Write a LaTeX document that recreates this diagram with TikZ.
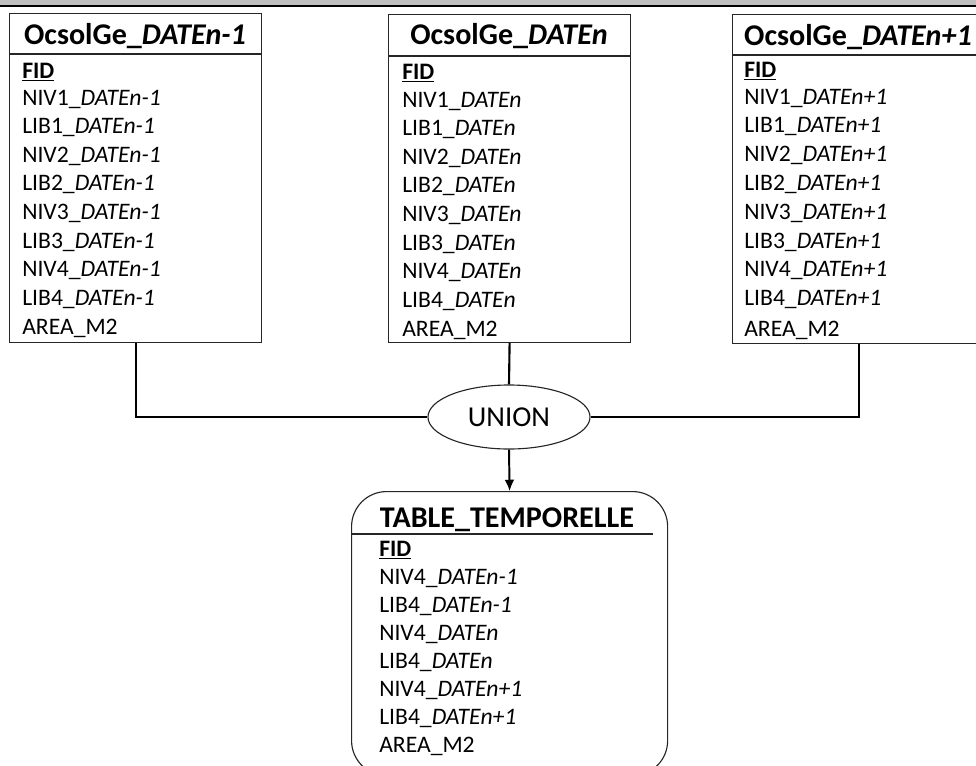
\documentclass[tikz,border=0pt]{standalone}
\usepackage{fontspec}
\setmainfont{Carlito}
\usetikzlibrary{shapes.geometric,arrows.meta}

\tikzset{
  tblbox/.style={draw=black!85, line width=0.8pt, fill=white, anchor=north west, inner sep=0pt},
  tblline/.style={draw=black!85, line width=0.8pt},
  ttl/.style={anchor=base, inner sep=0pt, font=\fontsize{21.4}{25}\selectfont\bfseries},
  fld/.style={anchor=base west, inner sep=0pt, font=\fontsize{16.8}{20}\selectfont},
  conn/.style={line width=1.5pt},
}

\begin{document}
\begin{tikzpicture}[x=0.025cm, y=-0.025cm]
\useasboundingbox (0,0) rectangle (976,765);
\clip (0,0) rectangle (976,765);

% Top strip
\fill[black!25] (0,0) rectangle (976,5);
\draw[line width=1.4pt] (0,6) -- (976,6);

% Table DATEn-1
\node[tblbox, minimum width=6.3cm, minimum height=8.225cm] (t1) at (9,13) {};
\draw[tblline] (t1.west |- 0,54) -- (t1.east |- 0,54);
\node[ttl] (t1h) at (135,44) {OcsolGe\_\textit{DATEn-1}};
\node[fld] (t1f) at (22,78) {\underline{\textbf{FID}}};
\foreach \n in {1,...,4} {
  \node[fld] (t1niv\n) at (22,{105+(2*\n-2)*28.6}) {NIV\n\_\textit{DATEn-1}};
  \node[fld] (t1lib\n) at (22,{105+(2*\n-1)*28.6}) {LIB\n\_\textit{DATEn-1}};
}
\node[fld] (t1a) at (22,334) {AREA\_M2};

% Table DATEn
\node[tblbox, minimum width=6.05cm, minimum height=8.2cm] (t2) at (388,14) {};
\draw[tblline] (t2.west |- 0,56) -- (t2.east |- 0,56);
\node[ttl] (t2h) at (509,44) {OcsolGe\_\textit{DATEn}};
\node[fld] (t2f) at (402,79) {\underline{\textbf{FID}}};
\foreach \n in {1,...,4} {
  \node[fld] (t2niv\n) at (402,{107+(2*\n-2)*28.6}) {NIV\n\_\textit{DATEn}};
  \node[fld] (t2lib\n) at (402,{107+(2*\n-1)*28.6}) {LIB\n\_\textit{DATEn}};
}
\node[fld] (t2a) at (402,336) {AREA\_M2};

% Table DATEn+1
\node[tblbox, minimum width=6.3cm, minimum height=8.225cm] (t3) at (732,14) {};
\draw[tblline] (t3.west |- 0,55) -- (t3.east |- 0,55);
\node[ttl] (t3h) at (858,45) {OcsolGe\_\textit{DATEn+1}};
\node[fld] (t3f) at (744,77) {\underline{\textbf{FID}}};
\foreach \n in {1,...,4} {
  \node[fld] (t3niv\n) at (744,{104+(2*\n-2)*28.8}) {NIV\n\_\textit{DATEn+1}};
  \node[fld] (t3lib\n) at (744,{104+(2*\n-1)*28.8}) {LIB\n\_\textit{DATEn+1}};
}
\node[fld] (t3a) at (744,336) {AREA\_M2};

% Union
\node[draw=black!85, line width=0.8pt, ellipse, minimum width=4.05cm, minimum height=1.6cm,
      inner sep=0pt, font=\fontsize{20.5}{24}\selectfont] (union) at (509,417) {UNION};

% Result table
\node[tblbox, rounded corners=0.875cm, minimum width=7.9cm, minimum height=7.1cm] (tt) at (351,491) {};
\draw[tblline, line width=1pt] (tt.west |- 0,534) -- (653,534);
\node[ttl] (tth) at (507,527) {TABLE\_TEMPORELLE};
\node[fld] (ttf) at (379,556) {\underline{\textbf{FID}}};
\foreach \d/\y in {DATEn-1/584, DATEn/640, DATEn+1/696} {
  \node[fld] at (379,\y) {NIV4\_\textit{\d}};
  \node[fld] at (379,\y+28) {LIB4\_\textit{\d}};
}
\node[fld] (tta) at (379,752) {AREA\_M2};

% Connectors
\draw[conn] (t1.south) |- (union.west);
\draw[conn] (t2.south) -- (union.north);
\draw[conn] (t3.south) |- (union.east);
\draw[line width=1.4pt, -{Latex[length=8pt,width=7pt]}] (union.south) -- (tt.north);
\end{tikzpicture}
\end{document}
